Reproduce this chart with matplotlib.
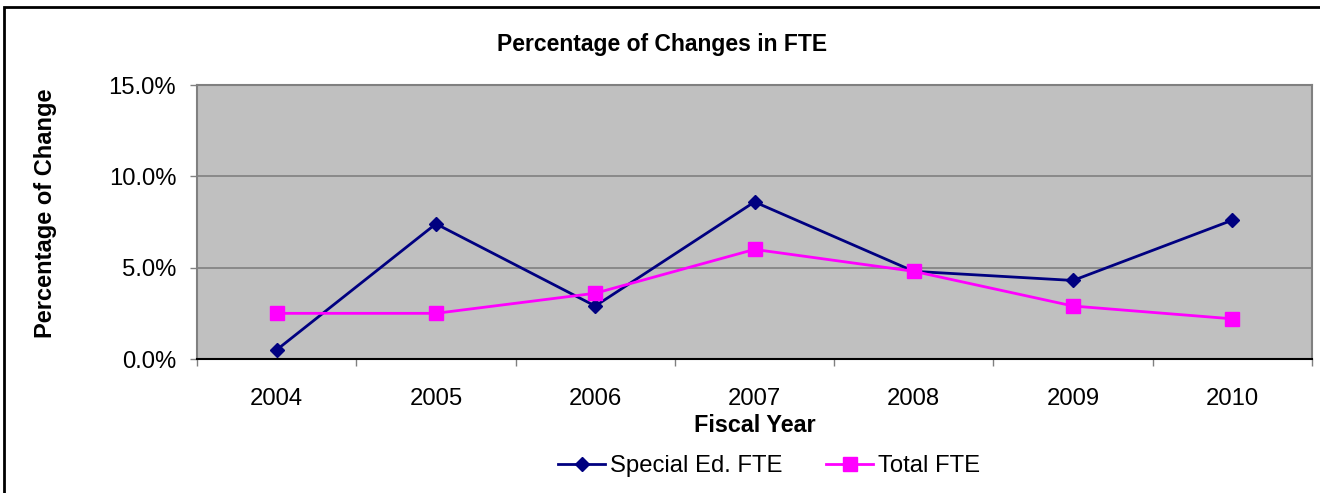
import matplotlib
matplotlib.use("Agg")
import matplotlib.pyplot as plt
from matplotlib.patches import Rectangle
from matplotlib.ticker import FuncFormatter, FixedLocator

years = ["2004", "2005", "2006", "2007", "2008", "2009", "2010"]
special_ed = [0.5, 7.4, 2.9, 8.6, 4.8, 4.3, 7.6]
total_fte = [2.5, 2.5, 3.6, 6.0, 4.8, 2.9, 2.2]
y_ticks = [0, 5, 10, 15]

plt.rcParams['font.family'] = ['Liberation Sans', 'DejaVu Sans']

fig = plt.figure(figsize=(13.2, 4.93), dpi=100)
ax = fig.add_axes([197/1320, 1-359/493, (1312-197)/1320, (359-85)/493])
ax.set_facecolor('#C0C0C0')

x = list(range(len(years)))
ax.plot(x, special_ed, color='#000080', lw=2, marker='D', ms=7.5,
        label='Special Ed. FTE', zorder=3)
ax.plot(x, total_fte, color='#FF00FF', lw=2, marker='s', ms=10,
        label='Total FTE', zorder=3)

ax.set_xlim(-0.5, len(years) - 0.5)
ax.set_ylim(0, 15)
ax.set_yticks(y_ticks)
ax.yaxis.set_major_formatter(FuncFormatter(lambda v, p: f"{v:.1f}%"))
ax.set_xticks(x)
ax.set_xticklabels(years)
ax.xaxis.set_minor_locator(FixedLocator([i - 0.5 for i in range(len(years) + 1)]))
ax.tick_params(axis='x', which='major', length=0, pad=21, labelsize=17.2)
ax.tick_params(axis='x', which='minor', length=5, width=1, color='#808080', direction='out')
ax.tick_params(axis='y', length=5, width=1, color='#808080', labelsize=17.2, pad=10)

ax.yaxis.grid(True, color='#808080', lw=1.2)
ax.set_axisbelow(True)
for s in ['top', 'right', 'left']:
    ax.spines[s].set_color('#808080')
    ax.spines[s].set_linewidth(1.5)
ax.spines['bottom'].set_color('black')
ax.spines['bottom'].set_linewidth(1.5)

fig.text(662/1320, 1-45/493, 'Percentage of Changes in FTE', ha='center', va='center',
         fontsize=16.5, fontweight='bold')
fig.text(755/1320, 1-426/493, 'Fiscal Year', ha='center', va='center',
         fontsize=16.8, fontweight='bold')
fig.text(46/1320, 1-213/493, 'Percentage of Change', ha='center', va='center',
         rotation=90, fontsize=17, fontweight='bold')

fig.legend(loc='center', bbox_to_anchor=(769/1320, 1-466/493), ncol=2, frameon=False,
           fontsize=17.2, handlelength=2.0, columnspacing=1.8, handletextpad=0.2)

fig.patches.append(Rectangle((4/1320, -10/493), 1330/1320, 496/493, transform=fig.transFigure,
                             fill=False, edgecolor='black', lw=2))

fig.savefig('out.png', dpi=100)
